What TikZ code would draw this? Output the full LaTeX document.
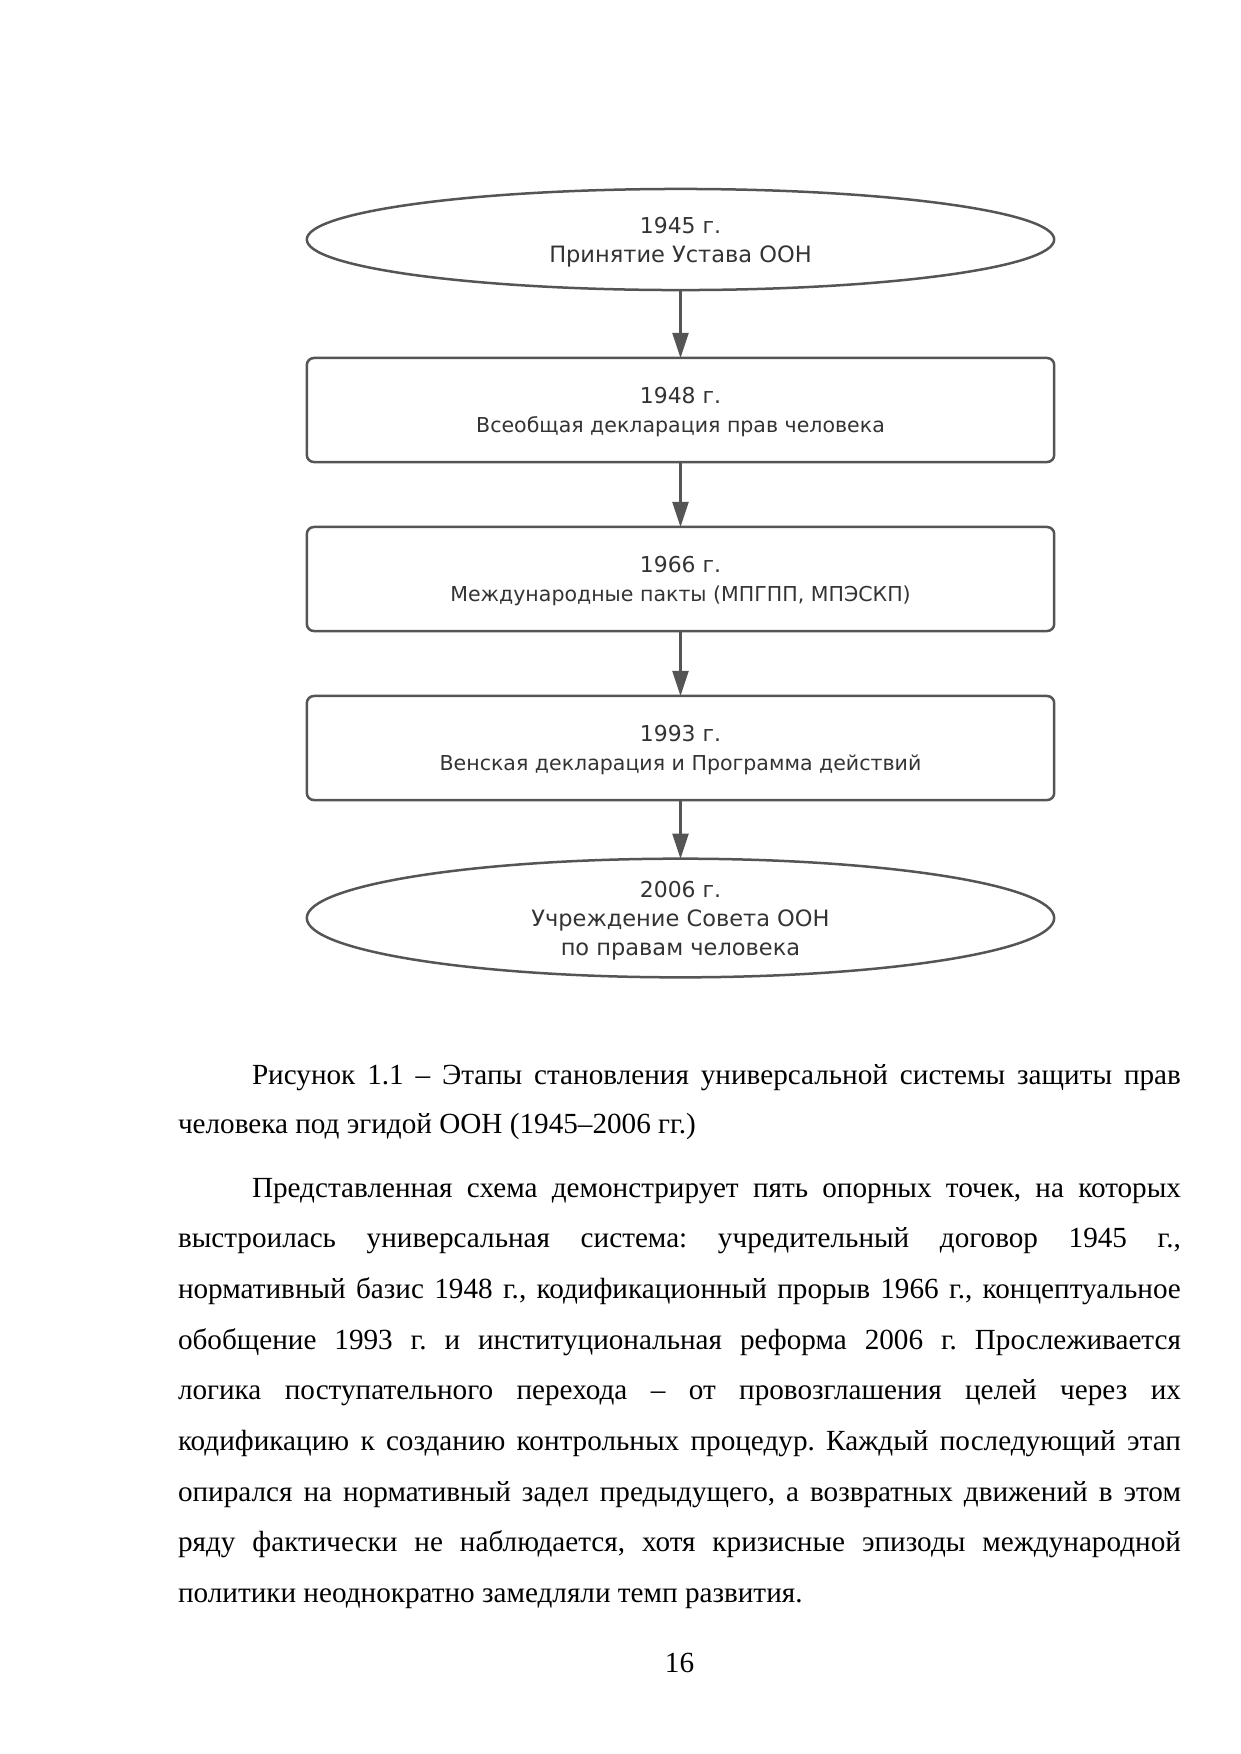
\documentclass[tikz,border=0pt]{standalone}
\usepackage{fontspec}
\setmainfont{Liberation Serif}
\newfontfamily\dgfont{DejaVu Sans}
\usetikzlibrary{shapes.geometric,arrows.meta}
\definecolor{lncol}{HTML}{555555}
\definecolor{txcol}{HTML}{333333}
\tikzset{
  stage/.style={draw=lncol, line width=1.2pt, minimum width=358.5pt, minimum height=49.9pt,
    inner sep=0pt, outer sep=0pt, align=center, text=txcol,
    font=\dgfont\fontsize{10.5}{13.6}\selectfont},
  boxstage/.style={stage, rectangle, rounded corners=3.4pt},
  ovalstage/.style={stage, ellipse, minimum height=48.5pt},
  arr/.style={draw=lncol, line width=1pt, -{Triangle[length=12pt,width=7.7pt]}},
  body/.style={anchor=base west, inner sep=0pt, outer sep=0pt, font=\fontsize{14}{16}\selectfont},
  pagenum/.style={anchor=base, inner sep=0pt, outer sep=0pt, font=\fontsize{14}{16}\selectfont},
}
\newcommand\jfull[1]{\hbox to 481.1pt{#1}}
\newcommand\jind[1]{\hbox to 445.6pt{#1}}
\newcommand\yr[2][9.6pt]{\rule{0pt}{#1}#2}
\newcommand\boxln[1]{{\fontsize{9.85}{13.6}\selectfont #1}}
\newcommand\ovln[1]{{\fontsize{10.8}{13.6}\selectfont #1}}
\begin{document}
\frenchspacing
\begin{tikzpicture}[x=0.47968pt,y=-0.47968pt]
\useasboundingbox (0,0) rectangle (1241,1754);
% diagram
\node[ovalstage, font=\dgfont\fontsize{10.5}{14.2}\selectfont] (e1) at (680.5,239.5) {\yr[10.4pt]{1945 г.}\\\ovln{Принятие Устава ООН}};
\node[boxstage] (b1) at (680.5,410) {\yr{1948 г.}\\\boxln{Всеобщая декларация прав человека}};
\node[boxstage] (b2) at (680.5,579) {\yr{1966 г.}\\\boxln{Международные пакты (МПГПП, МПЭСКП)}};
\node[boxstage] (b3) at (680.5,748) {\yr{1993 г.}\\\boxln{Венская декларация и Программа действий}};
\node[ovalstage, font=\dgfont\fontsize{10.5}{13.8}\selectfont] (e2) at (680.5,918) {\yr[10.4pt]{2006 г.}\\\ovln{Учреждение Совета ООН}\\\ovln{по правам человека}};
\draw[arr] (e1.south) -- (b1.north);
\draw[arr] (b1.south) -- (b2.north);
\draw[arr] (b2.south) -- (b3.north);
\draw[arr] (b3.south) -- (e2.north);
% caption
\node[body] (c1) at (252,1084) {\jind{Рисунок 1.1 – Этапы становления универсальной системы защиты прав}};
\node[body] (c2) at (178,1133) {человека под эгидой ООН (1945–2006 гг.)};
% paragraph
\node[body] (p1) at (252,1197) {\jind{Представленная схема демонстрирует пять опорных точек, на которых}};
\node[body] (p2) at (178,1247.7) {\jfull{выстроилась универсальная система: учредительный договор 1945 г.,}};
\node[body] (p3) at (178,1298.4) {\jfull{нормативный базис 1948 г., кодификационный прорыв 1966 г., концептуальное}};
\node[body] (p4) at (178,1349.1) {\jfull{обобщение 1993 г. и институциональная реформа 2006 г. Прослеживается}};
\node[body] (p5) at (178,1399.8) {\jfull{логика поступательного перехода – от провозглашения целей через их}};
\node[body] (p6) at (178,1450.5) {\jfull{кодификацию к созданию контрольных процедур. Каждый последующий этап}};
\node[body] (p7) at (178,1501.2) {\jfull{опирался на нормативный задел предыдущего, а возвратных движений в этом}};
\node[body] (p8) at (178,1551.9) {\jfull{ряду фактически не наблюдается, хотя кризисные эпизоды международной}};
\node[body] (p9) at (178,1602.6) {политики неоднократно замедляли темп развития.};
\node[pagenum] (pg) at (679.5,1672) {16};
\end{tikzpicture}
\end{document}
